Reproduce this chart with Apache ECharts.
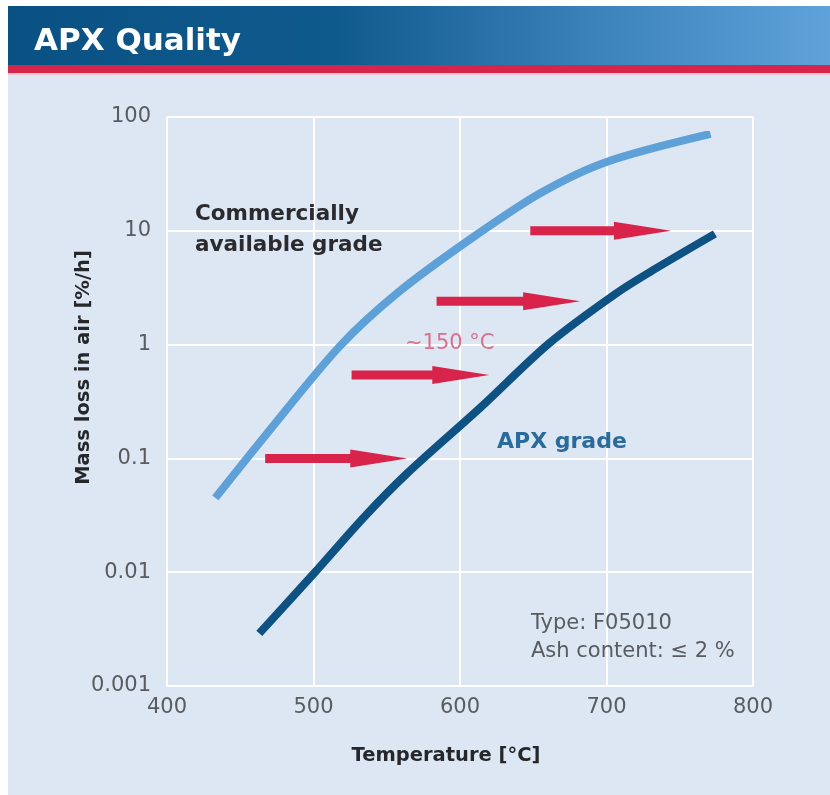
<!DOCTYPE html>
<html lang="en">
<head>
    <meta charset="UTF-8">
    <title>APX Quality</title>
    <script src="https://cdn.jsdelivr.net/npm/echarts@6/dist/echarts.min.js"></script>
    <style>
        html, body { margin: 0; padding: 0; background: #ffffff; }
        #main { width: 830px; height: 795px; }
    </style>
</head>
<body>
<div id="main"></div>
<script type="text/javascript">
    // commercially available grade (light blue)
    var tempCommercial = [433, 468, 518, 559, 609, 655, 700, 771];
    var lossCommercial = [0.045, 0.164, 0.97, 2.96, 8.8, 21.5, 40.3, 71];

    // APX grade (dark blue)
    var tempApx = [463, 501, 534, 564, 614, 661, 707, 732, 774];
    var lossApx = [0.0029, 0.01, 0.03, 0.074, 0.28, 1.03, 2.84, 4.53, 9.4];

    // red shift arrows (~150 °C)
    var arrowLoss = [0.1, 0.54, 2.4, 10];
    var arrowFrom = [467, 526, 584, 648];
    var arrowTo = [564, 620, 682, 744];

    var xTickLabels = ['400', '500', '600', '700', '800'];
    var yTickLabels = ['0.001', '0.01', '0.1', '1', '10', '100'];

    var font = '"DejaVu Sans", sans-serif';

    function pairs(xs, ys) {
        var out = [];
        for (var i = 0; i < xs.length; i++) {
            out.push([xs[i], ys[i]]);
        }
        return out;
    }

    var arrowData = [];
    for (var i = 0; i < arrowLoss.length; i++) {
        arrowData.push([arrowFrom[i], arrowTo[i], arrowLoss[i]]);
    }

    var myChart = echarts.init(document.getElementById('main'));

    var option = {
        animation: false,
        backgroundColor: '#dde7f3',
        title: {
            text: 'APX Quality',
            left: 29,
            top: 21,
            textStyle: {
                color: '#ffffff',
                fontSize: 31,
                fontWeight: 'bold',
                fontFamily: font
            }
        },
        graphic: [
            {type: 'rect', shape: {x: 0, y: 0, width: 830, height: 6}, style: {fill: '#ffffff'}},
            {type: 'rect', shape: {x: 0, y: 0, width: 8, height: 795}, style: {fill: '#ffffff'}},
            {
                type: 'rect', z: -1,
                shape: {x: 8, y: 6, width: 822, height: 59},
                style: {
                    fill: new echarts.graphic.LinearGradient(0, 0, 1, 0, [
                        {offset: 0, color: '#0a5183'},
                        {offset: 0.4, color: '#0f5a8d'},
                        {offset: 0.7, color: '#3a80b9'},
                        {offset: 1, color: '#5fa3da'}
                    ])
                }
            },
            {type: 'rect', shape: {x: 8, y: 65, width: 822, height: 8}, style: {fill: '#d6254b'}},
            {type: 'rect', shape: {x: 8, y: 73, width: 822, height: 2}, style: {fill: '#efc3d0'}},
            {
                type: 'text', left: 195, top: 199, z: 100,
                style: {
                    text: 'Commercially\navailable grade',
                    fill: '#2b2b2f',
                    font: 'bold 21.5px ' + font,
                    lineHeight: 31
                }
            },
            {
                type: 'text', left: 497, top: 431, z: 100,
                style: {text: 'APX grade', fill: '#2b6b9c', font: 'bold 22px ' + font}
            },
            {
                type: 'text', left: 405, top: 333, z: 100,
                style: {text: '~150 °C', fill: '#db6f8e', font: '21px ' + font}
            },
            {
                type: 'text', left: 531, top: 610, z: 100,
                style: {
                    text: 'Type: F05010\nAsh content: \u2264 2 %',
                    fill: '#585b60',
                    font: '21px ' + font,
                    lineHeight: 28
                }
            }
        ],
        grid: {
            left: 167,
            right: 77,
            top: 117,
            bottom: 109
        },
        xAxis: {
            type: 'value',
            min: 400,
            max: 800,
            interval: 100,
            name: 'Temperature [°C]',
            nameLocation: 'middle',
            nameGap: 60,
            nameTextStyle: {
                color: '#25272b',
                fontSize: 19.5,
                fontWeight: 'bold',
                fontFamily: font,
                padding: [0, 28, 0, 0]
            },
            axisLine: {show: false},
            axisTick: {show: false},
            axisLabel: {
                margin: 11,
                color: '#585b60',
                fontSize: 21,
                fontFamily: font,
                formatter: function (v) {
                    return xTickLabels[Math.round((v - 400) / 100)];
                }
            },
            splitLine: {show: true, lineStyle: {color: '#ffffff', width: 2}}
        },
        yAxis: {
            type: 'log',
            logBase: 10,
            min: 0.001,
            max: 100,
            name: 'Mass loss in air [%/h]',
            nameLocation: 'middle',
            nameGap: 73,
            nameMoveOverlap: false,
            nameTextStyle: {
                color: '#25272b',
                fontSize: 19.5,
                fontWeight: 'bold',
                fontFamily: font,
                padding: [0, 0, 0, 68]
            },
            axisLine: {show: false},
            axisTick: {show: false},
            axisLabel: {
                margin: 16,
                color: '#585b60',
                fontSize: 21,
                fontFamily: font,
                formatter: function (v) {
                    return yTickLabels[Math.round(Math.log10(v)) + 3];
                }
            },
            splitLine: {show: true, lineStyle: {color: '#ffffff', width: 2}}
        },
        series: [
            {
                name: 'Commercially available grade',
                type: 'line',
                data: pairs(tempCommercial, lossCommercial),
                smooth: 0.3,
                symbol: 'none',
                lineStyle: {color: '#5ea1d8', width: 8}
            },
            {
                name: 'APX grade',
                type: 'line',
                data: pairs(tempApx, lossApx),
                smooth: 0.3,
                symbol: 'none',
                lineStyle: {color: '#0e5183', width: 8}
            },
            {
                name: 'shift',
                type: 'custom',
                data: arrowData,
                encode: {x: [0, 1], y: 2},
                renderItem: function (params, api) {
                    var p1 = api.coord([api.value(0), api.value(2)]);
                    var p2 = api.coord([api.value(1), api.value(2)]);
                    var y = p1[1];
                    var head = 57;
                    var xh = p2[0] - head;
                    return {
                        type: 'polygon',
                        shape: {
                            points: [
                                [p1[0], y - 4.5], [xh, y - 4.5], [xh, y - 9],
                                [p2[0], y], [xh, y + 9], [xh, y + 4.5], [p1[0], y + 4.5]
                            ]
                        },
                        style: {fill: '#d8244a'}
                    };
                }
            }
        ]
    };

    myChart.setOption(option);
</script>
</body>
</html>
